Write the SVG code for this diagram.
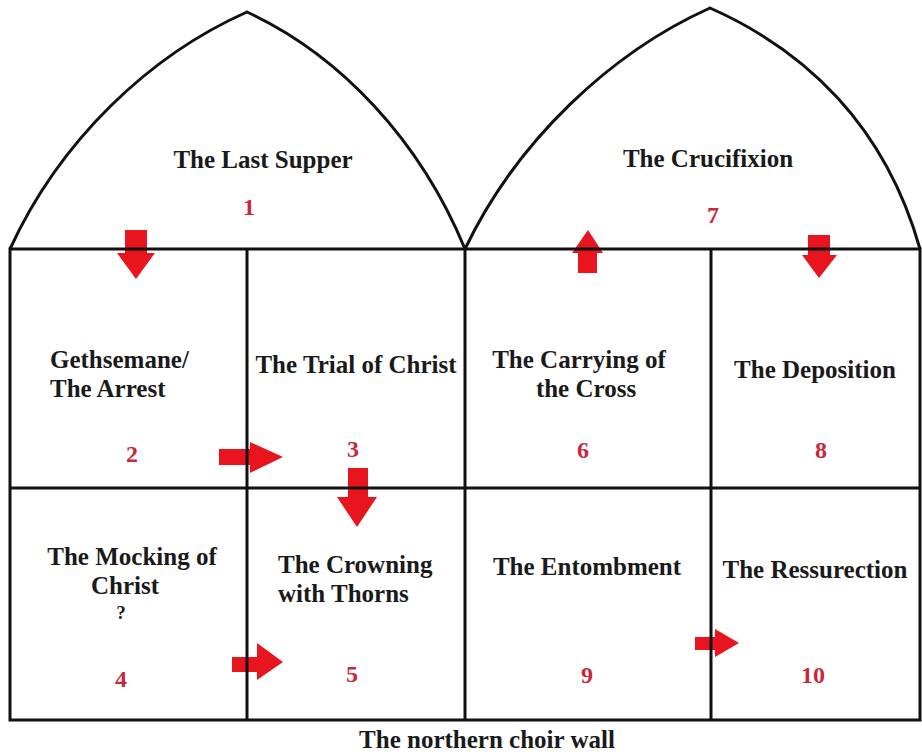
<svg xmlns="http://www.w3.org/2000/svg" width="922" height="755" viewBox="0 0 922 755">
<style>
.ln{fill:none;stroke:#111;stroke-width:3;stroke-linejoin:miter}
.lb{font-family:"Liberation Serif","Times New Roman",serif;font-weight:bold;font-size:25px;fill:#1a1a1a}
.c{text-anchor:middle}
.q{font-size:19px}
.num{font-family:"Liberation Serif","Times New Roman",serif;font-weight:bold;font-size:24px;fill:#c8283c;text-anchor:middle}
.ar{fill:#e8151f}
</style>
<rect width="922" height="755" fill="#fff"/>
<g id="connectors">
<path class="ar" d="M125,230 H147 V253 H155 L136,279 L117,253 H125 Z"/>
<path class="ar" d="M578,273 H597 V253 H603 L588,230 L572,253 H578 Z"/>
<path class="ar" d="M808,235 H830 V255 H837 L819,278 L802,255 H808 Z"/>
<path class="ar" d="M219,449 H250 V442 L283,457 L250,473 V465 H219 Z"/>
<path class="ar" d="M348,468 H368 V497 H377 L357,527 L337,497 H348 Z"/>
<path class="ar" d="M232,657 H257 V643 L283,662 L257,680 V672 H232 Z"/>
<path class="ar" d="M695,637 H715 V629 L739,643 L715,657 V650 H695 Z"/>
</g>
<g id="frame">
<path class="ln" d="M10,249 C60,140 150,55 247,12 C340,55 420,140 465,249"/>
<path class="ln" d="M465,249 C517,140 612,52 710,8 C805,50 885,125 920,249"/>
<rect class="ln" x="10" y="249" width="910" height="471"/>
<line class="ln" x1="10" y1="488" x2="920" y2="488"/>
<line class="ln" x1="247" y1="249" x2="247" y2="720"/>
<line class="ln" x1="465" y1="249" x2="465" y2="720"/>
<line class="ln" x1="711" y1="249" x2="711" y2="720"/>
</g>
<g id="n1"><text class="lb c" x="263" y="168">The Last Supper</text><text class="num" x="249" y="215">1</text></g>
<g id="n7"><text class="lb c" x="708" y="167">The Crucifixion</text><text class="num" x="713" y="223">7</text></g>
<g id="n2"><text class="lb" x="50" y="368">Gethsemane/</text><text class="lb" x="50" y="397">The Arrest</text><text class="num" x="132" y="462">2</text></g>
<g id="n3"><text class="lb c" x="356" y="373">The Trial of Christ</text><text class="num" x="353" y="457">3</text></g>
<g id="n6"><text class="lb c" x="579" y="368">The Carrying of</text><text class="lb c" x="586" y="397">the Cross</text><text class="num" x="583" y="458">6</text></g>
<g id="n8"><text class="lb c" x="815" y="378">The Deposition</text><text class="num" x="821" y="458">8</text></g>
<g id="n4"><text class="lb c" x="132" y="565">The Mocking of</text><text class="lb c" x="125" y="594">Christ</text><text class="lb c q" x="121" y="619">?</text><text class="num" x="121" y="687">4</text></g>
<g id="n5"><text class="lb" x="278" y="573">The Crowning</text><text class="lb" x="278" y="602">with Thorns</text><text class="num" x="352" y="682">5</text></g>
<g id="n9"><text class="lb c" x="587" y="575">The Entombment</text><text class="num" x="587" y="683">9</text></g>
<g id="n10"><text class="lb c" x="815" y="578">The Ressurection</text><text class="num" x="813" y="683">10</text></g>
<g id="caption"><text class="lb c" x="487" y="748">The northern choir wall</text></g>
</svg>
